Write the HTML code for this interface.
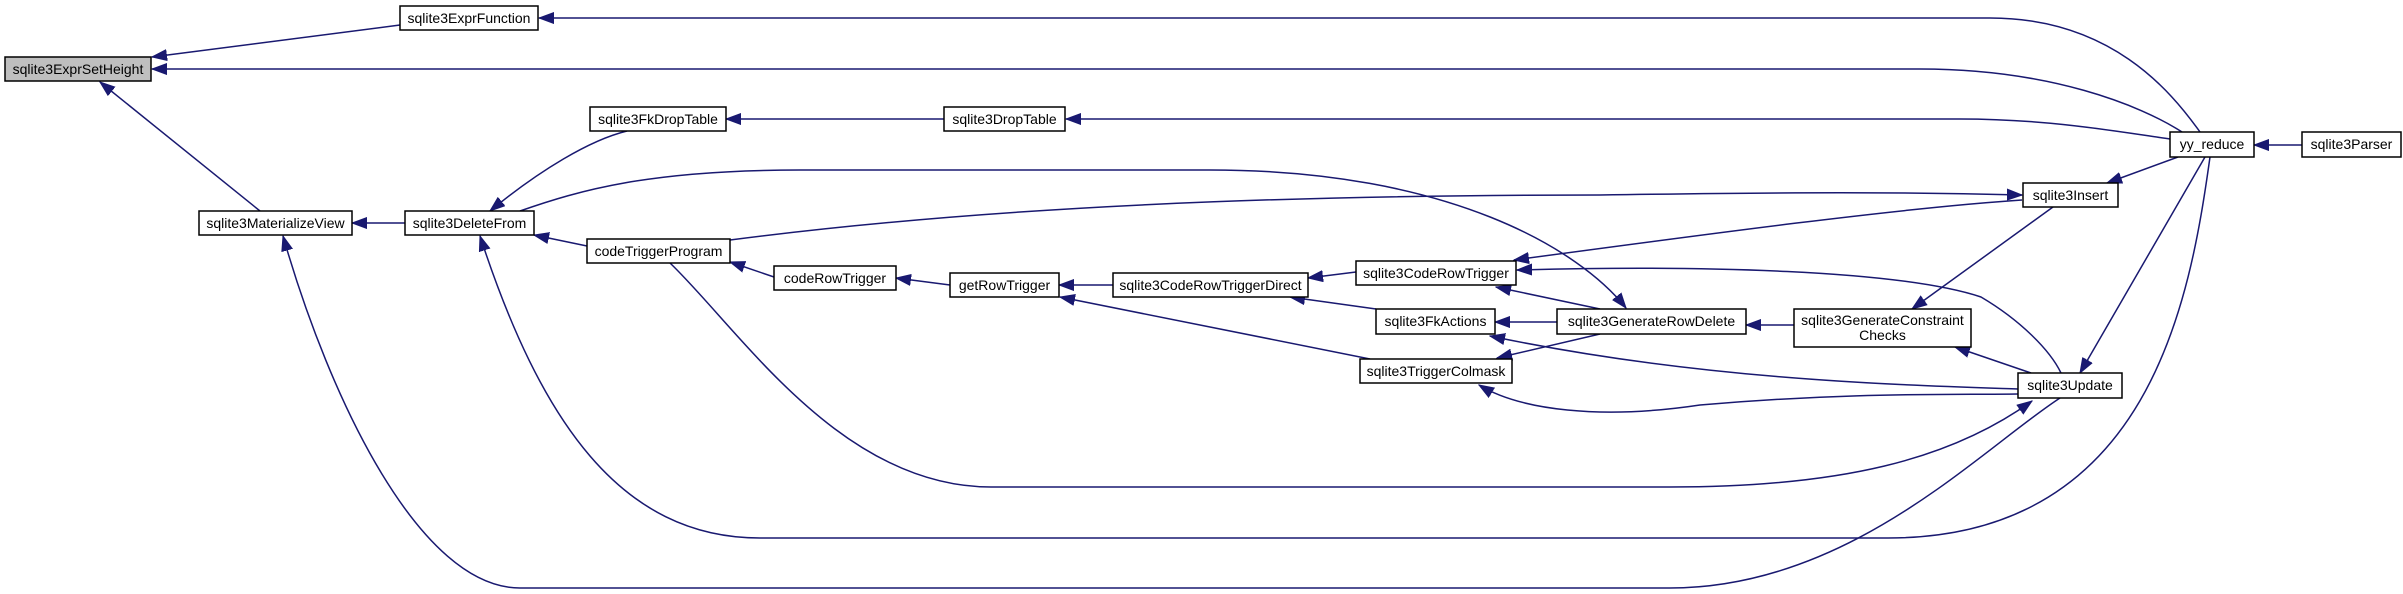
<!DOCTYPE html>
<html><head><meta charset="utf-8"><style>
html,body{margin:0;padding:0;background:#fff;}
svg{display:block;}
text{font-family:"Liberation Sans",Helvetica,sans-serif;font-size:14px;fill:#000;text-anchor:middle;}
rect{fill:#fff;stroke:#000;stroke-width:1.5;}
path.e{fill:none;stroke:#191970;stroke-width:1.5;}
</style></head><body>
<svg width="2403" height="594" viewBox="0 0 2403 594" xmlns="http://www.w3.org/2000/svg">
<defs>
<marker id="a" markerUnits="userSpaceOnUse" markerWidth="16" markerHeight="12" refX="15" refY="6" orient="auto-start-reverse">
<path d="M0,0.5 L15,6 L0,11.5 z" fill="#191970" stroke="#191970"/>
</marker>
</defs>
<g marker-start="url(#a)">
<path class="e" d="M152,57 L400,25"/>
<path class="e" d="M152,69 L1920,69 C2050,69 2140,105 2182,132"/>
<path class="e" d="M539,18 L1990,18 C2110,18 2170,90 2200,132"/>
<path class="e" d="M100,82 L260,211"/>
<path class="e" d="M352,223 L405,223"/>
<path class="e" d="M283,236 C330,400 420,588 520,588 L1670,588 C1850,588 1980,450 2060,398"/>
<path class="e" d="M490,211 C540,170 590,140 627,131"/>
<path class="e" d="M726,119 L944,119"/>
<path class="e" d="M1066,119 L1960,119 C2050,119 2120,132 2170,139"/>
<path class="e" d="M2022,195 C1900,192 1800,192 1600,195 C1300,195 1000,205 730,240"/>
<path class="e" d="M1626,308 C1580,250 1450,170 1210,170 L800,170 C650,170 580,190 520,211"/>
<path class="e" d="M534,235 L587,246"/>
<path class="e" d="M480,236 C540,420 620,538 760,538 L1888,538 C2150,538 2190,300 2210,157"/>
<path class="e" d="M2032,401 C1950,460 1840,487 1670,487 L991,487 C840,487 740,330 670,263"/>
<path class="e" d="M730,262 L774,277"/>
<path class="e" d="M896,278 L950,285"/>
<path class="e" d="M1059,285 L1113,285"/>
<path class="e" d="M1308,278 L1356,272"/>
<path class="e" d="M1290,297 L1376,309"/>
<path class="e" d="M1060,297 L1370,359"/>
<path class="e" d="M1496,287 L1600,309"/>
<path class="e" d="M1495,322 L1557,322"/>
<path class="e" d="M1490,336 C1700,380 1900,385 2018,389"/>
<path class="e" d="M1497,358 L1600,334"/>
<path class="e" d="M1479,385 C1520,410 1600,420 1700,405 C1850,392 1950,395 2018,394"/>
<path class="e" d="M1514,260 C1700,235 1900,208 2022,200"/>
<path class="e" d="M1517,270 C1700,265 1900,270 1981,297 C2020,320 2050,350 2061,373"/>
<path class="e" d="M1912,309 L2053,207"/>
<path class="e" d="M1955,347 L2031,373"/>
<path class="e" d="M1746,325 L1794,325"/>
<path class="e" d="M2107,183 L2178,157"/>
<path class="e" d="M2080,373 L2205,157"/>
<path class="e" d="M2254,145 L2302,145"/>
</g>
<g>
<rect x="5" y="57" width="146" height="24" style="fill:#bfbfbf"/><text x="78" y="74">sqlite3ExprSetHeight</text>
<rect x="400" y="6" width="138" height="24"/><text x="469" y="23">sqlite3ExprFunction</text>
<rect x="199" y="211" width="153" height="24"/><text x="275.5" y="228">sqlite3MaterializeView</text>
<rect x="405" y="211" width="129" height="24"/><text x="469.5" y="228">sqlite3DeleteFrom</text>
<rect x="590" y="107" width="136" height="24"/><text x="658" y="124">sqlite3FkDropTable</text>
<rect x="944" y="107" width="121" height="24"/><text x="1004.5" y="124">sqlite3DropTable</text>
<rect x="587" y="239" width="143" height="24"/><text x="658.5" y="256">codeTriggerProgram</text>
<rect x="774" y="266" width="122" height="24"/><text x="835" y="283">codeRowTrigger</text>
<rect x="950" y="273" width="109" height="24"/><text x="1004.5" y="290">getRowTrigger</text>
<rect x="1113" y="273" width="195" height="24"/><text x="1210.5" y="290">sqlite3CodeRowTriggerDirect</text>
<rect x="1356" y="261" width="160" height="24"/><text x="1436" y="278">sqlite3CodeRowTrigger</text>
<rect x="1376" y="309" width="119" height="25"/><text x="1435.5" y="326">sqlite3FkActions</text>
<rect x="1360" y="359" width="152" height="24"/><text x="1436" y="376">sqlite3TriggerColmask</text>
<rect x="1557" y="309" width="189" height="25"/><text x="1651.5" y="326">sqlite3GenerateRowDelete</text>
<rect x="1794" y="309" width="177" height="38"/><text x="1882.5" y="325">sqlite3GenerateConstraint</text><text x="1882.5" y="340">Checks</text>
<rect x="2023" y="183" width="95" height="24"/><text x="2070.5" y="200">sqlite3Insert</text>
<rect x="2018" y="373" width="104" height="25"/><text x="2070" y="390">sqlite3Update</text>
<rect x="2170" y="132" width="84" height="25"/><text x="2212" y="149">yy_reduce</text>
<rect x="2302" y="132" width="99" height="25"/><text x="2351.5" y="149">sqlite3Parser</text>
</g>
</svg>
</body></html>
